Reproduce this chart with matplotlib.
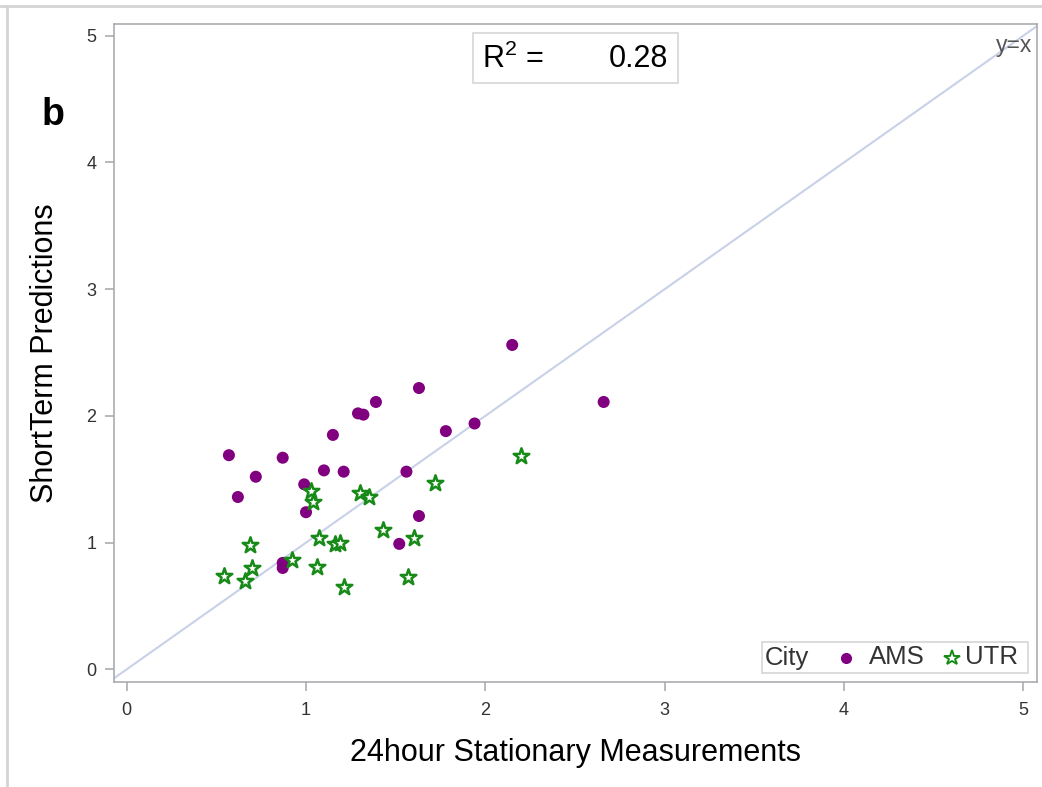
import matplotlib
matplotlib.use("Agg")
import matplotlib.pyplot as plt
from matplotlib.lines import Line2D
from matplotlib.patches import Rectangle
from matplotlib.offsetbox import AnchoredOffsetbox, HPacker, TextArea, DrawingArea

plt.rcParams["font.family"] = ["Liberation Sans", "DejaVu Sans"]

# City AMS (purple dots)
ams_x = [1.63, 1.39, 1.29, 1.32, 1.15, 1.78, 0.57, 0.87, 1.10, 1.21, 1.56,
         0.72, 0.62, 0.99, 1.00, 1.63, 1.52, 0.87, 0.87, 2.15, 2.66, 1.94]
ams_y = [2.22, 2.11, 2.02, 2.01, 1.85, 1.88, 1.69, 1.67, 1.57, 1.56, 1.56,
         1.52, 1.36, 1.46, 1.24, 1.21, 0.99, 0.84, 0.80, 2.56, 2.11, 1.94]

# City UTR (green stars)
utr_x = [1.03, 1.04, 1.30, 1.35, 1.72, 1.07, 1.43, 1.60, 1.16, 1.19,
         0.69, 0.92, 0.70, 0.54, 0.66, 1.06, 1.21, 1.57, 2.20]
utr_y = [1.41, 1.32, 1.39, 1.36, 1.47, 1.04, 1.10, 1.04, 0.99, 1.00,
         0.98, 0.86, 0.80, 0.74, 0.70, 0.81, 0.65, 0.73, 1.68]

r2_value = 0.28

purple = "#800080"
green = "#178a17"
spine_gray = "#a3a6ab"
text_gray = "#333333"
PX = 72 / 100  # pixels -> points at dpi 100

fig = plt.figure(figsize=(10.42, 7.87), dpi=100)
ax = fig.add_axes([113.7 / 1042, 1 - 682 / 787, 923 / 1042, 658 / 787])

ax.set_xlim(-0.0725, 5.075)
ax.set_ylim(-0.100, 5.093)

# y = x reference line
ax.axline((0, 0), slope=1, color="#c9d1e8", lw=1.5, zorder=1)
ax.text(0.995, 0.985, "y=x", transform=ax.transAxes, ha="right", va="top",
        fontsize=16.5, color="#555555")

ax.scatter(ams_x, ams_y, s=75, color=purple, edgecolors="none", zorder=3)
ax.scatter(utr_x, utr_y, s=140, marker="*", facecolors="white",
           edgecolors=green, linewidths=1.8, zorder=3)

ax.set_xticks([0, 1, 2, 3, 4, 5])
ax.set_yticks([0, 1, 2, 3, 4, 5])
ax.tick_params(axis="both", direction="out", length=6.5, width=1.1,
               color=spine_gray, labelsize=13, labelcolor=text_gray)
ax.tick_params(axis="x", pad=8)
ax.tick_params(axis="y", pad=6)
for sp in ax.spines.values():
    sp.set_color(spine_gray)
    sp.set_linewidth(1.1)

ax.set_xlabel("24hour Stationary Measurements", fontsize=22, labelpad=13.5)
ax.set_ylabel("ShortTerm Predictions", fontsize=22, labelpad=19)

# R^2 box
ax.add_patch(Rectangle((0.389, 0.910), 0.222, 0.076, transform=ax.transAxes,
                       facecolor="white", edgecolor="#d6d6d6", lw=1.2, zorder=4))
ax.text(0.399, 0.947, r"R$\mathregular{^2}$ =", transform=ax.transAxes,
        ha="left", va="center", fontsize=22, zorder=5)
ax.text(0.6003, 0.947, f"{r2_value:.2f}", transform=ax.transAxes,
        ha="right", va="center", fontsize=22, zorder=5)

# legend: City  • AMS  ☆ UTR
def marker_area(width_px, center_px, **kw):
    da = DrawingArea(width_px * PX, 12, 0, 0)
    if kw:
        da.add_artist(Line2D([center_px * PX], [6], linestyle="none", **kw))
    return da

tprops = dict(fontsize=18.5, color=text_gray)
items = HPacker(children=[
    TextArea("City", textprops=tprops),
    marker_area(60, 37, marker="o", markersize=7, color=purple),
    TextArea("AMS", textprops=tprops),
    marker_area(40, 27, marker="*", markersize=11.5, markerfacecolor="white",
                markeredgecolor=green, markeredgewidth=1.4),
    TextArea("UTR", textprops=tprops),
    marker_area(6, 0),
], sep=0, align="center")
leg = AnchoredOffsetbox(loc="lower right", child=items, pad=0.25, borderpad=0.65,
                        frameon=True, bbox_to_anchor=(1, 0),
                        bbox_transform=ax.transAxes)
leg.patch.set_edgecolor("#d6d6d6")
leg.patch.set_linewidth(1.2)
ax.add_artist(leg)

# panel letter
fig.text(42 / 1042, 1 - 125 / 787, "b", fontsize=27, fontweight="bold",
         ha="left", va="baseline")

# page border lines
fig.add_artist(Line2D([0, 1], [1 - 5.5 / 787, 1 - 5.5 / 787],
                      transform=fig.transFigure, color="#d4d4d4", lw=2))
fig.add_artist(Line2D([7 / 1042, 7 / 1042], [0, 1 - 5.5 / 787],
                      transform=fig.transFigure, color="#d4d4d4", lw=2))

fig.savefig("out.png", dpi=100)
